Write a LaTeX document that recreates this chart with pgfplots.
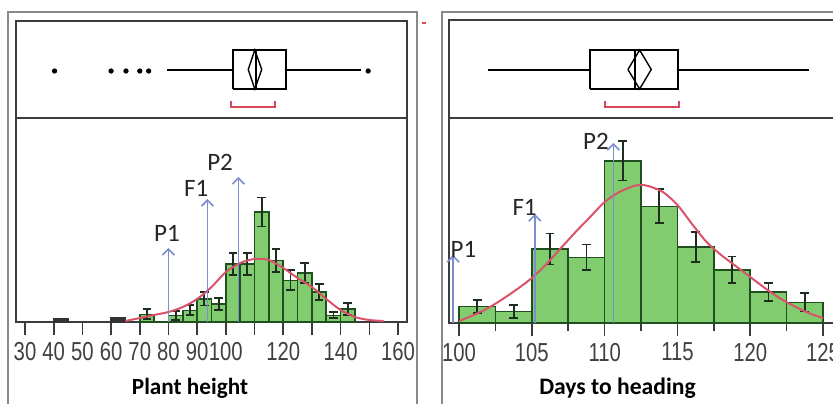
\documentclass[border=0pt]{standalone}
\usepackage{pgfplots}
\pgfplotsset{compat=1.18}
\usepackage{fontspec}
\setmainfont{Carlito}
\newfontfamily\tickfont[FakeStretch=0.78]{Liberation Sans}
\usetikzlibrary{arrows.meta}
\definecolor{barfill}{HTML}{80CC6E}
\definecolor{baredge}{HTML}{1F4F1F}
\definecolor{errc}{HTML}{1E2E1E}
\definecolor{curvec}{HTML}{D9536A}
\definecolor{arrc}{HTML}{7B8FD0}
\definecolor{framec}{HTML}{3C3C3C}
\definecolor{outerc}{HTML}{8A8A8A}
\definecolor{brk}{HTML}{D6475A}
\tikzset{lab/.style={font=\fontsize{12.5}{14}\selectfont, text=black!85}}
\pgfplotsset{
  panel/.style={scale only axis, clip=false,
    axis line style={framec, line width=1pt},
    ymin=0, ytick=\empty,
    xtick pos=bottom, tick align=outside,
    major tick length=6.5pt, minor tick length=4pt,
    tick style={framec, line width=0.8pt},
    xticklabel style={font=\tickfont\fontsize{13}{14}\selectfont, text=black!75},
    /pgf/number format/assume math mode=true},
  hist/.style={ybar interval, fill=barfill, draw=baredge, line width=0.8pt},
  errs/.style={forget plot, draw=none, mark=none, error bars/.cd, y dir=both, y explicit,
    error bar style={draw=errc, line width=0.9pt},
    error mark options={draw=errc, rotate=90, mark size=2.2pt, line width=0.9pt}},
  boxl/.style={black, line width=0.9pt},
  arr/.style={arrc, line width=0.8pt, -{Straight Barb[length=3pt,width=6pt]}},
}
\begin{document}
\begin{tikzpicture}
\useasboundingbox (0,0) rectangle (416.5pt,201.5pt);
\clip (0,0) rectangle (416.5pt,201.5pt);
\fill[white] (0,0) rectangle (416.5pt,201.5pt);
% outer frames
\draw[outerc, line width=1pt] (4pt,-5pt) -- (4pt,195.5pt) -- (208.5pt,195.5pt) -- (208.5pt,-5pt);
\draw[outerc, line width=1pt] (221pt,-5pt) -- (221pt,195.5pt) -- (430pt,195.5pt);
\draw[brk, line width=0.6pt] (211pt,190pt) -- (213pt,190pt);
% ---------------- left panel ----------------
\begin{axis}[panel, at={(8pt,40.5pt)}, anchor=south west,
  width=195.5pt, height=150.5pt, xmin=26.86, xmax=163.14, ymax=301,
  xtick={30,40,...,160},
  xticklabels={30,40,50,60,70,80,90,100,,120,,140,,160}]
\addplot[hist, fill=black!80, draw=black!80] coordinates {(40,3)(45,3)};
\addplot[hist, fill=black!80, draw=black!80] coordinates {(60,4.5)(65,4.5)};
\addplot[hist] coordinates {(70,7.7)(75,0)(80,6.7)(85,11.7)(90,23.3)(95,18.3)(100,58)(105,58)(110,110)(115,61.7)(120,41.7)(125,49)(130,30)(135,6.7)(140,13.3)(145,13.3)};
\addplot[errs] coordinates {
 (72.5,7.7) +- (0,5) (82.5,6.7) +- (0,4.5) (87.5,11.7) +- (0,5)
 (92.5,23.3) +- (0,6.7) (97.5,18.3) +- (0,6) (102.5,58) +- (0,11)
 (107.5,58) +- (0,11) (112.5,110) +- (0,14.5) (117.5,61.7) +- (0,11.7)
 (122.5,41.7) +- (0,10) (127.5,49) +- (0,10.3) (132.5,30) +- (0,7.8)
 (137.5,6.7) +- (0,3) (142.5,13.3) +- (0,6)};
\addplot[curvec, line width=1pt, smooth] coordinates {(65,1)(70,4)(75,7)(80,10)(85,15)(90,23)(95,35)(100,50)(105,59)(110,63)(115,62)(120,54)(125,44)(130,35)(135,23)(140,12)(145,5)(150,2)(155,1)};
% arrows
\addplot[arr] coordinates {(80,0)(80,74)};
\addplot[arr] coordinates {(93.6,0)(93.6,123)};
\addplot[arr] coordinates {(104.4,0)(104.4,145)};
\node[lab] at (axis cs:79.5,89) {P1};
\node[lab] at (axis cs:89.7,134) {F1};
\node[lab] at (axis cs:98,160) {P2};
% divider
\addplot[framec, line width=1pt] coordinates {(26.86,204)(163.14,204)};
% box plot
\addplot[boxl] coordinates {(102.6,233)(120.9,233)(120.9,272)(102.6,272)(102.6,233)};
\addplot[boxl] coordinates {(79.6,252)(102.6,252)};
\addplot[boxl] coordinates {(120.9,252)(147.1,252)};
\addplot[boxl] coordinates {(110.5,233)(110.5,272)};
\addplot[boxl, line width=0.7pt] coordinates {(107.8,252.5)(110.1,272)(112.5,252.5)(110.1,233)(107.8,252.5)};
\addplot[only marks, mark=*, mark size=1.1pt, black] coordinates {(40.3,251)(60,251)(65.2,251)(70,251)(73.1,251)(149.6,251)};
\addplot[brk, line width=1pt] coordinates {(101.9,221)(101.9,215)(117.1,215)(117.1,221)};
\end{axis}
% ---------------- right panel ----------------
\begin{axis}[panel, at={(224.5pt,40pt)}, anchor=south west,
  width=192.5pt, height=151.5pt, xmin=99.31, xmax=125.75, ymax=303,
  xtick={100,105,...,125}, minor xtick={102.5,107.5,...,122.5}]
\addplot[hist] coordinates {(100,16.7)(102.5,11.7)(105,74)(107.5,65.7)(110,162.3)(112.5,116.7)(115,76)(117.5,53.3)(120,31)(122.5,20.7)(125,20.7)};
\addplot[errs] coordinates {
 (101.25,16.7) +- (0,6.3) (103.75,11.7) +- (0,6.7) (106.25,74) +- (0,15.5)
 (108.75,65.7) +- (0,12.8) (111.25,162.3) +- (0,19.7) (113.75,116.7) +- (0,17)
 (116.25,76) +- (0,15.3) (118.75,53.3) +- (0,13.3) (121.25,31) +- (0,8.7)
 (123.75,20.7) +- (0,9.2)};
\addplot[curvec, line width=1pt, smooth] coordinates {(100,2)(101,8)(102,15)(103,24)(104,34)(105,45)(106,59)(107,75)(108,91)(109,106)(110,121)(111,131)(112,137)(112.5,138)(113,137)(114,131)(115,118)(116,99)(117,81)(118,68)(119,57)(120,46)(121,35)(122,25)(123,17)(124,10)(125,5)};
\addplot[arr] coordinates {(99.6,0)(99.6,68)};
\addplot[arr] coordinates {(105.2,0)(105.2,109)};
\addplot[arr] coordinates {(110.6,0)(110.6,180)};
\node[lab] at (axis cs:100.3,74) {P1};
\node[lab] at (axis cs:104.5,116) {F1};
\node[lab] at (axis cs:109.4,182) {P2};
\addplot[framec, line width=1pt] coordinates {(99.31,205)(125.75,205)};
\addplot[boxl] coordinates {(109,234)(115.06,234)(115.06,273)(109,273)(109,234)};
\addplot[boxl] coordinates {(102,253)(109,253)};
\addplot[boxl] coordinates {(115.06,253)(124,253)};
\addplot[boxl] coordinates {(112.1,234)(112.1,273)};
\addplot[boxl, line width=0.7pt] coordinates {(111.6,253.5)(112.4,273)(113.2,253.5)(112.4,234)(111.6,253.5)};
\addplot[brk, line width=1pt] coordinates {(110,222)(110,216)(115.1,216)(115.1,222)};
\end{axis}
\node[font=\bfseries\fontsize{11.6}{13}\selectfont] at (95pt,7.5pt) {Plant height};
\node[font=\bfseries\fontsize{11.8}{13}\selectfont] at (308.75pt,7.5pt) {Days to heading};
\end{tikzpicture}
\end{document}
